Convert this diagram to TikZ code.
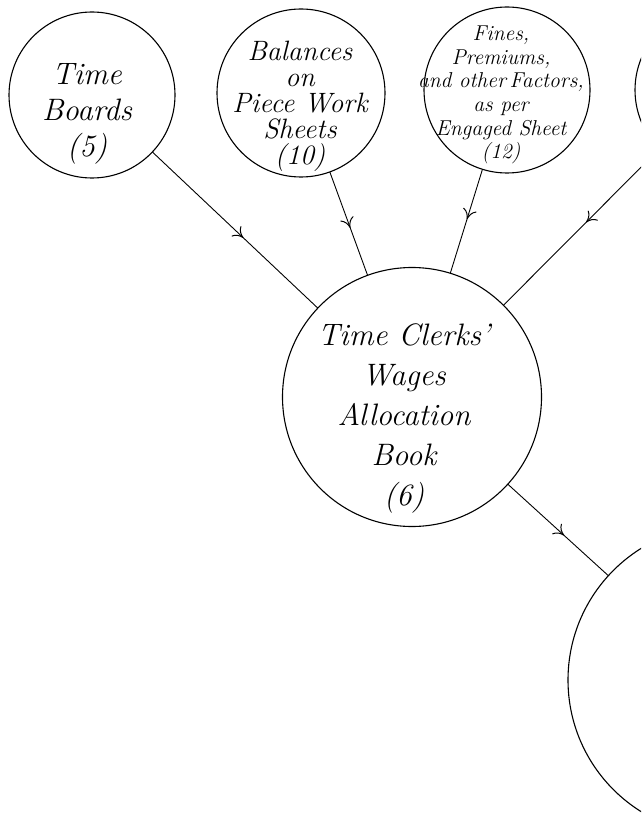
\documentclass[tikz,border=0pt]{standalone}
\usepackage{fontspec}
\usetikzlibrary{arrows.meta,decorations.markings}
\begin{document}
\begin{tikzpicture}[x=1pt,y=-1pt,
  disc/.style={circle,draw,line width=1.1pt,inner sep=0pt,outer sep=0pt,minimum size=#1},
  lbl/.style={align=center,inner sep=0pt},
  link/.style={line width=0.9pt,postaction={decorate},
    decoration={markings,mark=at position #1 with {\arrow{Computer Modern Rightarrow[length=10pt,width=14pt,line width=1pt]}}}}]
\clip (0,0) rectangle (641,813);
% circles
\node[disc=166pt] (tb) at (92,95) {};
\node[disc=168pt] (bal) at (301,93) {};
\node[disc=166pt] (fin) at (507,90) {};
\node[disc=166pt] (four) at (718,90) {};
\node[disc=259pt] (clerk) at (412,397) {};
\node[disc=310pt] (big) at (723,680) {};
% texts
\node[lbl,font=\fontsize{31}{36}\selectfont\itshape] (tbt) at (87,114) {Time\\Boards\\(5)};
\node[lbl,font=\fontsize{28}{26}\selectfont\itshape] (balt) at (300,106) {Balances\\on\\Piece Work\\Sheets\\(10)};
\node[lbl,font=\fontsize{21.5}{23.6}\selectfont\itshape] (fint) at (501,95) {Fines,\\Premiums,\\and other\,Factors,\\as per\\Engaged Sheet\\(12)};
\node[lbl,font=\fontsize{31}{40}\selectfont\itshape] (clerkt) at (404,418) {Time Clerks'\\Wages\\Allocation\\Book\\(6)};
% connectors
\draw[link=0.55] (tb) -- (clerk);
\draw[link=0.54] (bal) -- (clerk);
\draw[link=0.48] (fin) -- (clerk);
\draw[link=0.47] (four) -- (clerk);
\draw[link=0.56] (clerk) -- (big);
\end{tikzpicture}
\end{document}
